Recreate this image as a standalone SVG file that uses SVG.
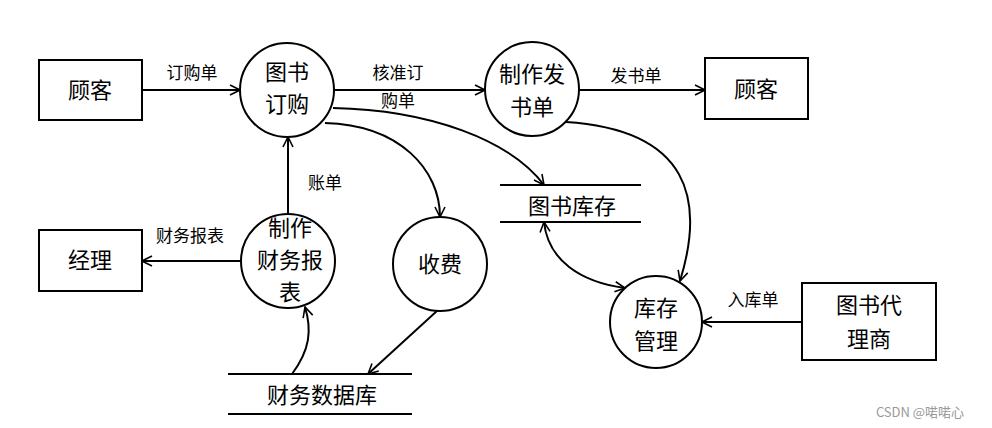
<svg xmlns="http://www.w3.org/2000/svg" width="992" height="428" viewBox="0 0 992 428">
<defs>
<marker id="a" viewBox="0 0 12 12" refX="11" refY="6" markerWidth="12" markerHeight="12" markerUnits="userSpaceOnUse" orient="auto-start-reverse"><path d="M1,1 L11,6 L1,11" fill="none" stroke="#000" stroke-width="1.6"/></marker>
</defs>
<style>
.n{fill:#fff;stroke:#000;stroke-width:2}
.t{font-family:"Noto Sans CJK SC","Liberation Sans",sans-serif;font-size:22px;text-anchor:middle;fill:#000}
.l{font-family:"Noto Sans CJK SC","Liberation Sans",sans-serif;font-size:17px;text-anchor:middle;fill:#000}
.c{fill:none;stroke:#000;stroke-width:2;marker-end:url(#a)}
.s{stroke:#000;stroke-width:2}
</style>
<rect width="992" height="428" fill="#fff"/>
<g id="connectors">
<path class="c" d="M142,90 L240,90"/>
<path class="c" d="M333,90 L485,90"/>
<path class="c" d="M333,108 C430,110 510,140 544,185"/>
<path class="c" d="M325,123 C400,125 440,170 440,217"/>
<path class="c" d="M288,214 L288,137"/>
<path class="c" d="M241,261 L142,261"/>
<path class="c" d="M292,374 C310,350 312,330 305,307"/>
<path class="c" d="M438,310 L368,374"/>
<path class="c" d="M578,90 L705,90"/>
<path class="c" d="M566,122 C690,130 705,200 680,281"/>
<path class="c" d="M544,222 C548,260 580,282 625,288" style="marker-start:url(#a)"/>
<path class="c" d="M802,322 L702,322"/>
<text class="l" x="192" y="79">订购单</text>
<text class="l" x="398" y="79">核准订</text>
<text class="l" x="398" y="107">购单</text>
<text class="l" x="325" y="189">账单</text>
<text class="l" x="190" y="242">财务报表</text>
<text class="l" x="636" y="82">发书单</text>
<text class="l" x="753" y="306">入库单</text>
</g>
<g id="guke1"><rect class="n" x="39" y="60" width="103" height="60"/><text class="t" x="90" y="98">顾客</text></g>
<g id="jingli"><rect class="n" x="39" y="230" width="103" height="61"/><text class="t" x="90" y="268">经理</text></g>
<g id="guke2"><rect class="n" x="705" y="58" width="103" height="61"/><text class="t" x="756" y="97">顾客</text></g>
<g id="daili"><rect class="n" x="802" y="283" width="134" height="77"/><text class="t" x="869" y="313">图书代</text><text class="t" x="869" y="347">理商</text></g>
<g id="dinggou"><circle class="n" cx="287" cy="90" r="47"/><text class="t" x="287" y="80">图书</text><text class="t" x="287" y="112">订购</text></g>
<g id="fashu"><circle class="n" cx="532" cy="89" r="47"/><text class="t" x="532" y="82">制作发</text><text class="t" x="532" y="115">书单</text></g>
<g id="caiwu"><circle class="n" cx="288" cy="261" r="47"/><text class="t" x="290" y="236">制作</text><text class="t" x="290" y="268">财务报</text><text class="t" x="290" y="300">表</text></g>
<g id="shoufei"><circle class="n" cx="440" cy="264" r="47"/><text class="t" x="440" y="272">收费</text></g>
<g id="kucun"><circle class="n" cx="656" cy="322" r="46"/><text class="t" x="656" y="316">库存</text><text class="t" x="656" y="349">管理</text></g>
<g id="tushukucun"><line class="s" x1="500" y1="185" x2="641" y2="185"/><line class="s" x1="500" y1="222" x2="641" y2="222"/><text class="t" x="572" y="214">图书库存</text></g>
<g id="caiwushuju"><line class="s" x1="228" y1="374" x2="412" y2="374"/><line class="s" x1="228" y1="414" x2="412" y2="414"/><text class="t" x="322" y="403">财务数据库</text></g>
<text x="920" y="417" style="font-family:'Noto Sans CJK SC','Liberation Sans',sans-serif;font-size:13px;fill:#999;text-anchor:middle">CSDN @喏喏心</text>
</svg>
